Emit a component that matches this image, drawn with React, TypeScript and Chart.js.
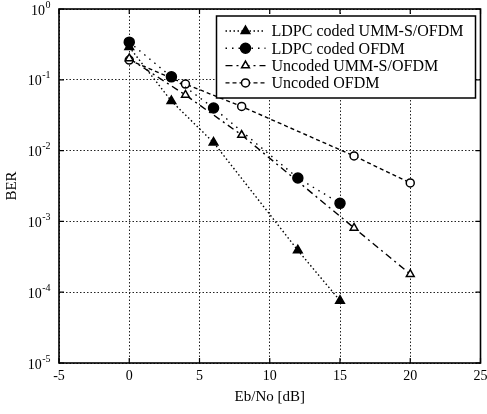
import React, { useEffect, useRef } from 'react';
import { Chart, registerables } from 'chart.js';
import { drawPoint } from 'chart.js/helpers';
Chart.register(...registerables);

const FONT = '"Liberation Serif", "Times New Roman", serif';

const seriesNames = [
  'LDPC coded UMM-S/OFDM',
  'LDPC coded OFDM',
  'Uncoded UMM-S/OFDM',
  'Uncoded OFDM',
];
const ldpcUmmX = [0, 3, 6, 12, 15];
const ldpcUmmY = [0.29, 0.05, 0.013, 3.9e-4, 7.6e-5];
const ldpcOfdmX = [0, 3, 6, 12, 15];
const ldpcOfdmY = [0.34, 0.11, 0.04, 0.0041, 0.0018];
const uncUmmX = [0, 4, 8, 16, 20];
const uncUmmY = [0.2, 0.061, 0.0166, 8.1e-4, 1.8e-4];
const uncOfdmX = [0, 4, 8, 16, 20];
const uncOfdmY = [0.19, 0.087, 0.042, 0.0084, 0.0035];

const xTicks = [-5, 0, 5, 10, 15, 20, 25];
const yExponents = [0, -1, -2, -3, -4, -5];

const pts = (xs: number[], ys: number[]) => xs.map((x, i) => ({ x, y: ys[i] }));

const framePlugin = {
  id: 'frameAndLegend',
  afterDatasetsDraw(chart: any) {
    const { ctx, chartArea: a } = chart;
    ctx.save();
    ctx.setLineDash([]);
    ctx.strokeStyle = '#000';
    ctx.lineWidth = 1.6;
    ctx.strokeRect(a.left, a.top, a.right - a.left, a.bottom - a.top);

    // inner tick marks
    ctx.lineWidth = 1.2;
    const xs = chart.scales.x;
    const ys = chart.scales.y;
    for (const v of xTicks) {
      const px = xs.getPixelForValue(v);
      ctx.beginPath();
      ctx.moveTo(px, a.bottom);
      ctx.lineTo(px, a.bottom - 5);
      ctx.moveTo(px, a.top);
      ctx.lineTo(px, a.top + 5);
      ctx.stroke();
    }
    for (const e of yExponents) {
      const py = ys.getPixelForValue(Math.pow(10, e));
      ctx.beginPath();
      ctx.moveTo(a.left, py);
      ctx.lineTo(a.left + 5, py);
      ctx.moveTo(a.right, py);
      ctx.lineTo(a.right - 5, py);
      ctx.stroke();
    }

    // y tick labels 10^e
    ctx.fillStyle = '#000';
    for (const e of yExponents) {
      const py = ys.getPixelForValue(Math.pow(10, e));
      const expText = e === 0 ? '0' : '-' + String(-e);
      ctx.font = `10px ${FONT}`;
      const ew = ctx.measureText(expText).width;
      const baseRight = a.left - 9 - ew;
      ctx.font = `14px ${FONT}`;
      ctx.textAlign = 'right';
      ctx.textBaseline = 'middle';
      ctx.fillText('10', baseRight, py + 2);
      ctx.font = `10px ${FONT}`;
      ctx.textAlign = 'left';
      ctx.fillText(expText, baseRight + 0.5, py - 4);
    }

    // legend
    const lw = 259;
    const lh = 82;
    const lx = a.right - 5 - lw;
    const ly = a.top + 7;
    ctx.fillStyle = '#fff';
    ctx.fillRect(lx, ly, lw, lh);
    ctx.strokeStyle = '#000';
    ctx.lineWidth = 1.5;
    ctx.strokeRect(lx, ly, lw, lh);
    chart.data.datasets.forEach((ds: any, i: number) => {
      const ry = ly + 15 + i * 17.3;
      ctx.save();
      ctx.strokeStyle = '#000';
      ctx.lineWidth = ds.borderWidth;
      ctx.setLineDash(ds.borderDash || []);
      ctx.beginPath();
      ctx.moveTo(lx + 9, ry);
      ctx.lineTo(lx + 49, ry);
      ctx.stroke();
      ctx.restore();
      ctx.save();
      ctx.setLineDash([]);
      ctx.fillStyle = ds.pointBackgroundColor;
      ctx.strokeStyle = '#000';
      ctx.lineWidth = ds.pointBorderWidth;
      drawPoint(ctx, { pointStyle: ds.pointStyle, radius: ds.pointRadius, borderWidth: ds.pointBorderWidth, rotation: 0 } as any, lx + 29, ry);
      ctx.restore();
      ctx.fillStyle = '#000';
      ctx.font = `16px ${FONT}`;
      ctx.textAlign = 'left';
      ctx.textBaseline = 'middle';
      ctx.fillText(seriesNames[i], lx + 55, ry + 1);
    });
    ctx.restore();
  },
};

export default function App() {
  const ref = useRef<HTMLCanvasElement>(null);
  useEffect(() => {
    if (!ref.current) return;
    const mk = (label: string, data: any[], style: string, filled: boolean, dash: number[], r: number) => ({
      label,
      data,
      borderColor: '#000',
      borderWidth: 1.4,
      borderDash: dash,
      pointStyle: style,
      pointRadius: r,
      pointBackgroundColor: filled ? '#000' : '#fff',
      pointBorderColor: '#000',
      pointBorderWidth: 1.5,
      showLine: true,
      fill: false,
      tension: 0,
    });
    const chart = new Chart(ref.current, {
      type: 'scatter',
      data: {
        datasets: [
          mk(seriesNames[0], pts(ldpcUmmX, ldpcUmmY), 'triangle', true, [1.5, 2.5], 5),
          mk(seriesNames[1], pts(ldpcOfdmX, ldpcOfdmY), 'circle', true, [1.5, 5], 5),
          mk(seriesNames[2], pts(uncUmmX, uncUmmY), 'triangle', false, [7, 4, 2, 4], 4.5),
          mk(seriesNames[3], pts(uncOfdmX, uncOfdmY), 'circle', false, [4, 3], 4),
        ],
      },
      options: {
        responsive: false,
        animation: false,
        layout: { padding: { top: 9, right: 0, left: 0, bottom: 0 } },
        plugins: { legend: { display: false }, tooltip: { enabled: false } },
        scales: {
          x: {
            type: 'linear',
            min: -5,
            max: 25,
            afterBuildTicks: (s: any) => {
              s.ticks = xTicks.map((v) => ({ value: v }));
            },
            afterFit: (s: any) => {
              s.height = 51;
              s.paddingRight = 6;
            },
            grid: { color: '#222', lineWidth: 1, drawTicks: false },
            border: { display: false, dash: [1.5, 2] },
            ticks: { color: '#000', font: { family: FONT, size: 14 }, padding: 5 },
            title: {
              display: true,
              text: 'Eb/No [dB]',
              color: '#000',
              font: { family: FONT, size: 15 },
              padding: { top: 4, bottom: 8 },
            },
          },
          y: {
            type: 'logarithmic',
            min: 1e-5,
            max: 1,
            afterBuildTicks: (s: any) => {
              s.ticks = yExponents.map((e) => ({ value: Math.pow(10, e) }));
            },
            afterFit: (s: any) => {
              s.width = 59;
            },
            grid: { color: '#222', lineWidth: 1, drawTicks: false },
            border: { display: false, dash: [1.5, 2] },
            ticks: { display: false },
            title: {
              display: true,
              text: 'BER',
              color: '#000',
              font: { family: FONT, size: 15 },
              padding: { top: 3, bottom: 0 },
            },
          },
        },
      },
      plugins: [framePlugin],
    } as any);
    return () => chart.destroy();
  }, []);
  return (
    <div style={{ position: 'fixed', left: 0, top: 0, width: 487, height: 414, background: '#fff' }}>
      <canvas ref={ref} width={487} height={414} style={{ display: 'block' }} />
    </div>
  );
}
